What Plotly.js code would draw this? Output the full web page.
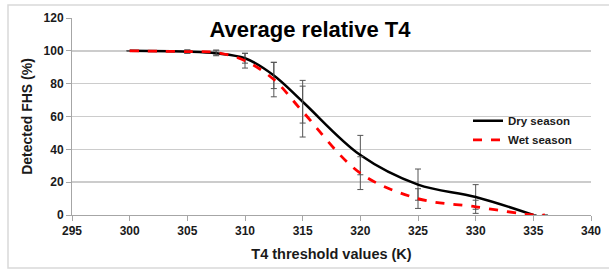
<!DOCTYPE html>
<html>
<head>
<meta charset="utf-8">
<script src="https://cdn.plot.ly/plotly-3.0.1.min.js"></script>
<style>
  html, body { margin: 0; padding: 0; background: #ffffff; }
  #chart { width: 609px; height: 273px; }
</style>
</head>
<body>
<div id="chart"></div>
<script>
// Data
const dryX = [300, 305, 307.5, 310, 312.5, 315, 320, 325, 330, 335];
const dryY = [100, 99.5, 98.5, 95.5, 85, 69, 36.5, 18.5, 11, 0];
const dryErr = [null, 1, 1.5, 3, 8, 13, 12, 9.5, 7.5, null];

const wetX = [300, 305, 307.5, 310, 312.5, 315, 320, 325, 330, 335, 336];
const wetY = [100, 99.5, 99, 94, 82.5, 63, 25.5, 10, 5, 0, 0];
const wetErr = [null, 1, 1.5, 4.5, 10.5, 15.5, 10, 6, 4, null, null];

const seriesNames = ["Dry season", "Wet season"];
const titleText = "Average relative T4";
const xTitle = "T4 threshold values (K)";
const yTitle = "Detected FHS (%)";

const FONT = "Liberation Sans, Arial, sans-serif";

const traces = [
  {
    x: dryX, y: dryY, name: seriesNames[0], type: "scatter", mode: "lines",
    line: { color: "#000000", width: 2.5, shape: "spline", smoothing: 1 },
    error_y: { type: "data", array: dryErr, visible: true, color: "#555555", thickness: 1, width: 3 }
  },
  {
    x: wetX, y: wetY, name: seriesNames[1], type: "scatter", mode: "lines",
    line: { color: "#ff0000", width: 2.8, dash: "dash", shape: "spline", smoothing: 1 },
    error_y: { type: "data", array: wetErr, visible: true, color: "#555555", thickness: 1, width: 3 }
  }
];

const layout = {
  width: 609, height: 273,
  margin: { l: 72, r: 18, t: 18, b: 58 },
  paper_bgcolor: "#ffffff",
  plot_bgcolor: "#ffffff",
  font: { family: FONT, color: "#222222", size: 10 },
  title: {
    text: titleText,
    font: { family: FONT, size: 22, color: "#000000", weight: "bold" },
    xref: "container", x: 0.509, xanchor: "center",
    yref: "container", y: 0.893, yanchor: "middle"
  },
  xaxis: {
    range: [295, 340], dtick: 5, tick0: 295,
    showgrid: false, zeroline: false,
    showline: true, linecolor: "#a6a6a6", linewidth: 1,
    ticks: "outside", ticklen: 5, tickcolor: "#a6a6a6",
    tickfont: { family: FONT, size: 12, color: "#1a1a1a", weight: "bold" },
    title: { text: xTitle, font: { family: FONT, size: 14.5, color: "#1a1a1a", weight: "bold" }, standoff: 11 }
  },
  yaxis: {
    range: [0, 120], dtick: 20,
    showgrid: true, gridcolor: "#cccccc", gridwidth: 1.5, zeroline: false,
    showline: true, linecolor: "#a6a6a6", linewidth: 1,
    ticks: "outside", ticklen: 5, tickcolor: "#a6a6a6",
    tickfont: { family: FONT, size: 12, color: "#1a1a1a", weight: "bold" },
    title: { text: yTitle, font: { family: FONT, size: 14, color: "#1a1a1a", weight: "bold" }, standoff: 7 }
  },
  legend: {
    x: 0.763, xanchor: "left", y: 0.43, yanchor: "middle",
    bgcolor: "rgba(0,0,0,0)",
    font: { family: FONT, size: 11.5, color: "#1a1a1a", weight: "bold" },
    itemwidth: 30
  },
  showlegend: true,
  shapes: [
    {
      type: "rect", xref: "paper", yref: "paper",
      x0: (8 - 72) / 519, x1: (615 - 72) / 519,
      y0: (215 - 268) / 197, y1: (215 - 5) / 197,
      line: { color: "#d9d9d9", width: 1.5 }, fillcolor: "rgba(0,0,0,0)", layer: "below"
    }
  ]
};

Plotly.newPlot("chart", traces, layout, { displayModeBar: false, staticPlot: true });
</script>
</body>
</html>
